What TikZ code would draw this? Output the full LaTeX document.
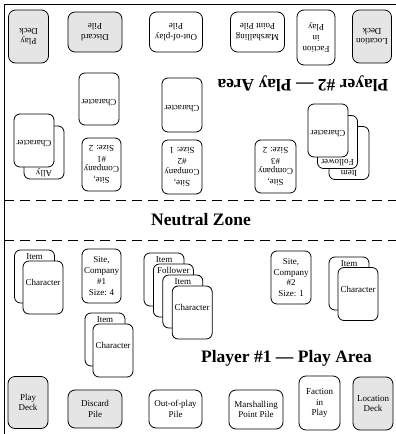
\documentclass[tikz,border=0pt]{standalone}
\usepackage{fontspec}
\setmainfont{Liberation Serif}
\usetikzlibrary{calc}
\begin{document}
\begin{tikzpicture}[x=1pt,y=-1pt,
  base/.style={draw=black, line width=0.8pt, inner sep=0pt, align=center,
    font=\fontsize{9}{10.8}\selectfont},
  card/.style={base, rounded corners=6pt, fill=white, minimum width=40pt, minimum height=53pt},
  pile/.style={base, rounded corners=7pt, fill=white},
  gpile/.style={pile, fill=gray!20},
  sz/.style 2 args={minimum width=#1pt, minimum height=#2pt},
  lbl/.style={inner sep=0pt, align=center, font=\fontsize{9}{10.8}\selectfont},
  rlbl/.style={lbl, rotate=180},
  title/.style={inner sep=0pt, font=\bfseries\fontsize{17.5}{20}\selectfont},
  zone/.style={line width=0.8pt, dash pattern=on 10pt off 6pt}
]
\useasboundingbox (0,0) rectangle (396,434);
% frame
\coordinate (fbl) at (4,434);
\coordinate (ftl) at (4,4);
\coordinate (ftr) at (396,4);
\draw[line width=0.8pt] (fbl) -- (ftl) -- (ftr);
% neutral zone borders
\coordinate (z1a) at (4,200); \coordinate (z1b) at (396,200);
\coordinate (z2a) at (4,240); \coordinate (z2b) at (396,240);
\draw[zone] (z1a) -- (z1b);
\draw[zone] (z2a) -- (z2b);
\node[title] (neutral) at (201,220) {Neutral Zone};

% ---------- Player 1 piles ----------
\node[gpile, sz={40}{52}] (p1deck) at (28,402.5) {Play\\Deck};
\node[gpile, sz={54}{38}] (p1disc) at (95,409) {Discard\\Pile};
\node[pile, sz={53}{38}] (p1oop) at (175.5,409) {Out-of-play\\Pile};
\node[pile, sz={54}{39}] (p1mp) at (256,409.5) {Marshalling\\Point Pile};
\node[pile, sz={41}{54}] (p1fac) at (319.5,403) {Faction\\in\\Play};
\node[gpile, sz={40}{53}] (p1loc) at (373,403.5) {Location\\Deck};
\node[title] (p1title) at (286.5,358.5) {Player \#1 — Play Area};

% ---------- Player 1 cards ----------
% stack A
\node[card] (a1) at (34.5,276.5) {};
\node[lbl] (a1t) at ($(a1.north)+(0,6.5)$) {Item};
\node[card] (a2) at (43,287.5) {};
\node[lbl] (a2t) at ($(a2.center)+(0,-5)$) {Character};
% site 1
\node[card, sz={39}{54}] (s1) at (101.5,276) {Site,\\Company\\\#1\\Size: 4};
% stack B
\node[card] (b1) at (164,279.5) {};
\node[lbl] (b1t) at ($(b1.north)+(0,6.5)$) {Item};
\node[card] (b2) at (173.4,290.5) {};
\node[lbl] (b2t) at ($(b2.north)+(0,6.5)$) {Follower};
\node[card] (b3) at (182.8,301.5) {};
\node[lbl] (b3t) at ($(b3.north)+(0,6.5)$) {Item};
\node[card] (b4) at (192.2,312.5) {};
\node[lbl] (b4t) at ($(b4.center)+(0,-5)$) {Character};
% stack C
\node[card] (c1) at (105,339.5) {};
\node[lbl] (c1t) at ($(c1.north)+(0,6.5)$) {Item};
\node[card] (c2) at (113,350.5) {};
\node[lbl] (c2t) at ($(c2.center)+(0,-5)$) {Character};
% site 2
\node[card] (s2) at (291,277.5) {Site,\\Company\\\#2\\Size: 1};
% stack D
\node[card] (d1) at (349,283.5) {};
\node[lbl] (d1t) at ($(d1.north)+(0,6.5)$) {Item};
\node[card] (d2) at (358,294) {};
\node[lbl] (d2t) at ($(d2.center)+(0,-5)$) {Character};

% ---------- Player 2 piles (upside down) ----------
\node[gpile, sz={40}{53}] (p2deck) at (28.5,36.5) {};
\node[rlbl] (p2deckt) at (p2deck.center) {Play\\Deck};
\node[gpile, sz={54}{40}] (p2disc) at (95,32) {};
\node[rlbl] (p2disct) at (p2disc.center) {Discard\\Pile};
\node[pile, sz={53}{40}] (p2oop) at (176,32) {};
\node[rlbl] (p2oopt) at (p2oop.center) {Out-of-play\\Pile};
\node[pile, sz={54}{40}] (p2mp) at (257.5,32) {};
\node[rlbl] (p2mpt) at (p2mp.center) {Marshalling\\Point Pile};
\node[pile, sz={38}{55}] (p2fac) at (316,37.5) {};
\node[rlbl] (p2fact) at (p2fac.center) {Faction\\in\\Play};
\node[gpile, sz={39}{53}] (p2loc) at (372,36.5) {};
\node[rlbl] (p2loct) at (p2loc.center) {Location\\Deck};
\node[title, rotate=180] (p2title) at (303,83.3) {Player \#2 — Play Area};

% ---------- Player 2 cards ----------
% ally stack
\node[card] (e1) at (44,152.5) {};
\node[rlbl] (e1t) at ($(e1.south)+(0,-6.5)$) {Ally};
\node[card] (e2) at (34,140.5) {};
\node[rlbl] (e2t) at ($(e2.center)+(0,3)$) {Character};
% single characters
\node[card, sz={40}{52}] (f1) at (99,99) {};
\node[rlbl] (f1t) at ($(f1.center)+(0,4)$) {Character};
\node[card, sz={40}{54}] (f2) at (182,105) {};
\node[rlbl] (f2t) at ($(f2.center)+(0,4)$) {Character};
% sites
\node[card, sz={39}{53}] (t1) at (101.5,164.5) {};
\node[rlbl] (t1t) at (t1.center) {Site,\\Company\\\#1\\Size: 2};
\node[card, sz={40}{54}] (t2) at (182,167) {};
\node[rlbl] (t2t) at (t2.center) {Site,\\Company\\\#2\\Size: 1};
\node[card, sz={41}{53}] (t3) at (275.5,166.5) {};
\node[rlbl] (t3t) at (t3.center) {Site,\\Company\\\#3\\Size: 2};
% character stack
\node[card] (g1) at (349,153) {};
\node[rlbl] (g1t) at ($(g1.south)+(0,-6.5)$) {Item};
\node[card] (g2) at (337.5,142) {};
\node[rlbl] (g2t) at ($(g2.south)+(0,-6.5)$) {Follower};
\node[card] (g3) at (328,130.5) {};
\node[rlbl] (g3t) at ($(g3.center)+(0,3)$) {Character};
\end{tikzpicture}
\end{document}
